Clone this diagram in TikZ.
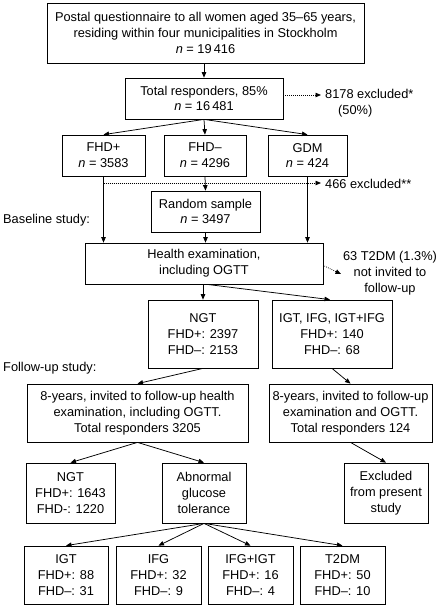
\documentclass[tikz,border=0pt]{standalone}
\usepackage{fontspec}
\setmainfont{Liberation Sans}
\usetikzlibrary{arrows.meta,calc}
\newcommand\fsz{\fontsize{12.8}{15.8}\selectfont}
\tikzset{
  box/.style={draw, line width=0.75pt, align=center, inner sep=0pt, font=\fsz},
  arr/.style={line width=0.75pt, -{Triangle[length=5.5pt,width=4.5pt]}},
  dotarr/.style={line width=0.75pt, dash pattern=on 0.75pt off 1.25pt, -{Triangle[length=5.5pt,width=4.5pt]}},
  lbl/.style={inner sep=0pt, align=center, font=\fsz},
}
\begin{document}
\begin{tikzpicture}[x=1pt,y=-1pt]
\useasboundingbox (0,0) rectangle (442,606);
% boxes
\node[box, minimum width=317pt, minimum height=60pt] (top) at (205.5,33) {Postal questionnaire to all women aged 35–65 years,\\residing within four municipalities in Stockholm\\\textit{n} = 19\,416};
\node[box, minimum width=158pt, minimum height=41pt] (tot) at (204,98.5) {Total responders, 85\%\\\textit{n} = 16\,481};
\node[box, minimum width=83pt, minimum height=41pt] (fhdp) at (103.5,155.5) {FHD+\\\textit{n} = 3583};
\node[box, minimum width=82pt, minimum height=41pt] (fhdm) at (205,155.5) {FHD–\\\textit{n} = 4296};
\node[box, minimum width=79pt, minimum height=41pt] (gdm) at (307.5,155.5) {GDM\\\textit{n} = 424};
\node[box, minimum width=109pt, minimum height=41pt] (rand) at (205.5,211.5) {Random sample\\\textit{n} = 3497};
\node[box, minimum width=238pt, minimum height=41pt] (health) at (204,263.5) {Health examination,\\including OGTT};
\node[box, minimum width=110pt, minimum height=68pt] (ngt) at (203,334) {NGT\\FHD+: 2397\\FHD–: 2153};
\node[box, minimum width=120pt, minimum height=68pt] (igt) at (332,334) {IGT, IFG, IGT+IFG\\FHD+: 140\\FHD–: 68};
\node[box, minimum width=221pt, minimum height=58pt] (fu1) at (137.5,413) {8-years, invited to follow-up health\\examination, including OGTT.\\Total responders 3205};
\node[box, minimum width=163pt, minimum height=58pt] (fu2) at (350.5,413) {8-years, invited to follow-up\\examination and OGTT.\\Total responders 124};
\node[box, minimum width=89pt, minimum height=60pt] (ngt2) at (70.5,493) {NGT\\FHD+: 1643\\FHD-: 1220};
\node[box, minimum width=84pt, minimum height=60pt] (abn) at (204,493) {Abnormal\\glucose\\tolerance};
\node[box, minimum width=84pt, minimum height=60pt] (excl) at (386,493) {Excluded\\from present\\study};
\node[box, minimum width=84pt, minimum height=58pt] (b1) at (66,575) {IGT\\FHD+: 88\\FHD–: 31};
\node[box, minimum width=85pt, minimum height=58pt] (b2) at (158.5,575) {IFG\\FHD+: 32\\FHD–: 9};
\node[box, minimum width=85pt, minimum height=58pt] (b3) at (250.5,575) {IFG+IGT\\FHD+: 16\\FHD–: 4};
\node[box, minimum width=85pt, minimum height=58pt] (b4) at (342.5,575) {T2DM\\FHD+: 50\\FHD–: 10};
% labels
\node[lbl, align=left, anchor=north west] (ex1) at (325,89.4) {8178 excluded*\\\hspace*{13pt}(50\%)};
\node[lbl, anchor=north west] (ex2) at (325,179.4) {466 excluded**};
\node[lbl, anchor=north] (ex3) at (390,251) {63 T2DM (1.3\%)\\not invited to\\follow-up};
\node[lbl, anchor=base west] (base) at (3,223.5) {Baseline study:};
\node[lbl, anchor=base west] (fol) at (3,371.5) {Follow-up study:};
% connector end points
\coordinate (e1) at (321,95);
\coordinate (e2) at (321,183);
\coordinate (e3) at (341,274);
% connectors
\draw[arr] (tot.north |- top.south) -- (tot.north);
\draw[arr] (tot.south) -- (fhdp.north);
\draw[arr] (tot.south) -- (fhdm.north);
\draw[arr] (tot.south) -- (gdm.north);
\draw[dotarr] (tot.east |- e1) -- (e1);
\draw[arr] (fhdp.south) -- (fhdp.south |- health.north);
\draw[arr] (gdm.south) -- (gdm.south |- health.north);
\draw[arr] (fhdm.south) -- (rand.north);
\draw[dotarr] (fhdp.south |- e2) -- (e2);
\draw[arr] (rand.south) -- (rand.south |- health.north);
\draw[dotarr] ($(health.east)+(1,2.5)$) -- (e3);
\draw[arr] (ngt.north |- health.south) -- (ngt.north);
\draw[arr] ($(health.south)+(3,0)$) -- ($(igt.north)+(-2,0)$);
\draw[arr] (ngt.south) -- (fu1.north);
\draw[arr] (igt.south) -- (fu2.north);
\draw[arr] (fu1.south) -- (ngt2.north);
\draw[arr] (fu1.south) -- (abn.north);
\draw[arr] (fu2.south) -- (excl.north);
\draw[arr] (abn.south) -- (b1.north);
\draw[arr] (abn.south) -- (b2.north);
\draw[arr] (abn.south) -- (b3.north);
\draw[arr] (abn.south) -- (b4.north);
\end{tikzpicture}
\end{document}
